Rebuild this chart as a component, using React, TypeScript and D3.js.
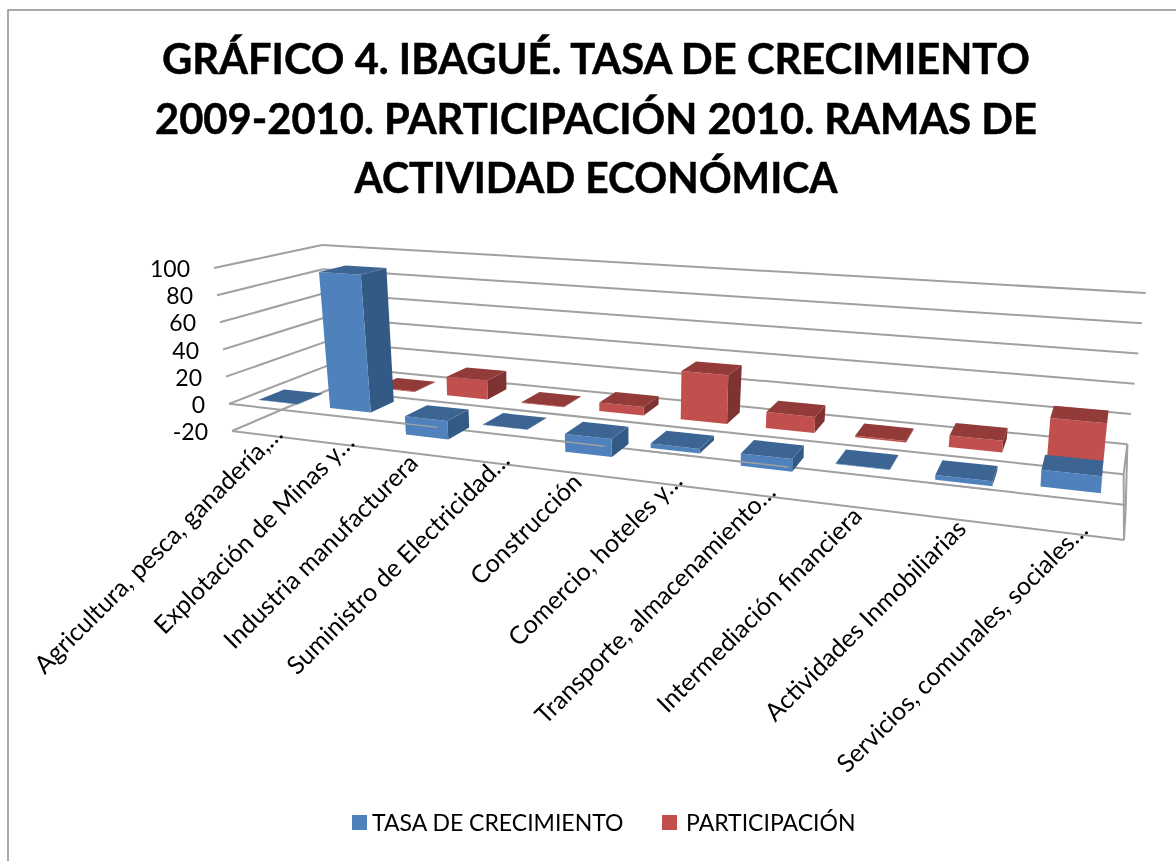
import React from "react";
import * as d3 from "d3";

const titleLines = ["GRÁFICO 4. IBAGUÉ. TASA DE CRECIMIENTO", "2009-2010. PARTICIPACIÓN 2010. RAMAS DE", "ACTIVIDAD ECONÓMICA"];
const categories = ["Agricultura, pesca, ganadería,…", "Explotación de Minas y…", "Industria manufacturera", "Suministro de Electricidad…", "Construcción", "Comercio, hoteles y…", "Transporte, almacenamiento…", "Intermediación financiera", "Actividades Inmobiliarias", "Servicios, comunales, sociales…"];
const tasa = [0.3, 99, -13, 0.2, -12, -3, -8, 0.2, -3, 10];
const participacion = [0, 0.4, 14, 0.4, 6, 34, 11, 1, 7.5, 25];
const valueTicks = [-20, 0, 20, 40, 60, 80, 100];
const seriesNames = ["TASA DE CRECIMIENTO", "PARTICIPACIÓN"];
const seriesFront = ["#4f81bd", "#c0504d"];
const seriesSide = ["#335a85", "#7f3230"];
const seriesTop = ["#3d6594", "#933b39"];

const valueDomain = [-20, 100];
// corners of the plot box at value -20 and 100
const flX = d3.scaleLinear().domain(valueDomain).range([232, 214]);
const flY = d3.scaleLinear().domain(valueDomain).range([431, 268]);
const frX = d3.scaleLinear().domain(valueDomain).range([1124, 1135]);
const frY = d3.scaleLinear().domain(valueDomain).range([540, 330]);
const blX = d3.scaleLinear().domain(valueDomain).range([328, 322]);
const blY = d3.scaleLinear().domain(valueDomain).range([390, 245]);
const persU = -0.22;
const persD = 0.121;

// perspective map: u along categories, d into depth, v the value
function project(u: number, d: number, v: number): [number, number] {
  const w = 1 + persU * u + persD * d;
  const x = (frX(v) * (1 + persU) - flX(v)) * u + (blX(v) * (1 + persD) - flX(v)) * d + flX(v);
  const y = (frY(v) * (1 + persU) - flY(v)) * u + (blY(v) * (1 + persD) - flY(v)) * d + flY(v);
  return [x / w, y / w];
}

const uBand = d3.scaleBand<number>().domain(d3.range(categories.length)).range([0, 1]).paddingInner(0.45).paddingOuter(0.225);
const depthRows = [[0.13, 0.38], [0.62, 0.87]];

const poly = (pts: [number, number][]) => pts.map((p) => p.map((n) => n.toFixed(1)).join(",")).join(" ");

function Bar({ i, s, value }: { i: number; s: number; value: number }) {
  if (value === 0) return null;
  const u0 = uBand(i)!, u1 = u0 + uBand.bandwidth();
  const [d0, d1] = depthRows[s];
  const hi = Math.max(value, 0), lo = Math.min(value, 0);
  return (
    <g>
      <polygon points={poly([project(u1, d0, lo), project(u1, d1, lo), project(u1, d1, hi), project(u1, d0, hi)])} fill={seriesSide[s]} />
      <polygon points={poly([project(u0, d0, lo), project(u1, d0, lo), project(u1, d0, hi), project(u0, d0, hi)])} fill={seriesFront[s]} />
      <polygon points={poly([project(u0, d0, hi), project(u1, d0, hi), project(u1, d1, hi), project(u0, d1, hi)])} fill={seriesTop[s]} />
    </g>
  );
}

export default function App() {
  const grid = "#a0a0a0";
  const line = (p: [number, number], q: [number, number], k: string) => (
    <line key={k} x1={p[0]} y1={p[1]} x2={q[0]} y2={q[1]} stroke={grid} strokeWidth={2} />
  );
  return (
    <svg width={1176} height={861} style={{ position: "absolute", left: 0, top: 0, fontFamily: "Lato, sans-serif" }}>
      <defs>
        <filter id="soft" x="0" y="0" width="1176" height="861" filterUnits="userSpaceOnUse">
          <feGaussianBlur stdDeviation="0.6" />
        </filter>
      </defs>
      <rect width={1176} height={861} fill="#fff" />
      <g filter="url(#soft)">
      <path d="M8,861V10H1176" fill="none" stroke="#8c8c8c" strokeWidth={1.5} />
      {titleLines.map((t, i) => (
        <text key={t} x={596} y={[74, 134, 193][i]} textAnchor="middle" fontSize={42} fontWeight={700} fill="#000" stroke="#000" strokeWidth={0.5} textLength={[868, 882, 483][i]} lengthAdjust="spacingAndGlyphs">{t}</text>
      ))}
      {valueTicks.map((v) => (
        <g key={v}>
          {line(project(0, 0, v), project(0, 1, v), `l${v}`)}
          {line(project(0, 1, v), project(1, 1, v), `b${v}`)}
          <text x={flX(v) - 24} y={flY(v) + 9} textAnchor="end" fontSize={23} fill="#000">{v}</text>
        </g>
      ))}
      {line(project(0, 0, 0), project(1, 0, 0), "f0")}
      {line(project(0, 0, -20), project(1, 0, -20), "f20")}
      {line(project(1, 1, -20), project(1, 1, 0), "rb")}
      {line(project(1, 0, -20), project(1, 0, 0), "rf")}
      {line(project(1, 0, -20), project(1, 1, -20), "rbot")}
      {line(project(1, 0, 0), project(1, 1, 0), "rtop")}
      {categories.map((_, i) => <Bar key={`r${i}`} i={i} s={1} value={participacion[i]} />)}
      {categories.map((_, i) => <Bar key={`b${i}`} i={i} s={0} value={tasa[i]} />)}
      {categories.map((_, i) => {
        const m = uBand(i)! + uBand.bandwidth() / 2;
        return tasa[i] < -1 ? (
          <line key={`o${i}`} x1={project(m - 0.03, 0, 0)[0]} y1={project(m - 0.03, 0, 0)[1]} x2={project(m + 0.03, 0, 0)[0]} y2={project(m + 0.03, 0, 0)[1]} stroke={grid} strokeWidth={1.5} />
        ) : null;
      })}
      {categories.map((c, i) => {
        const u1 = uBand(i)! + uBand.bandwidth();
        const [x, y] = project(u1, 0, -20);
        const nudge = 8 * Math.pow(1 - u1, 3);
        return (
          <text key={c} transform={`translate(${x - 21 + nudge},${y + 7 + nudge / 2}) rotate(-45)`} dx={c.endsWith("…") ? 17 : 0} textAnchor="end" fontSize={25} fill="#000">{c}</text>
        );
      })}
      {seriesNames.map((n, i) => (
        <g key={n}>
          <rect x={[352, 662][i]} y={815} width={15} height={15} fill={seriesFront[i]} />
          <text x={[372, 686][i]} y={831} fontSize={23} fill="#000">{n}</text>
        </g>
      ))}
      </g>
    </svg>
  );
}
